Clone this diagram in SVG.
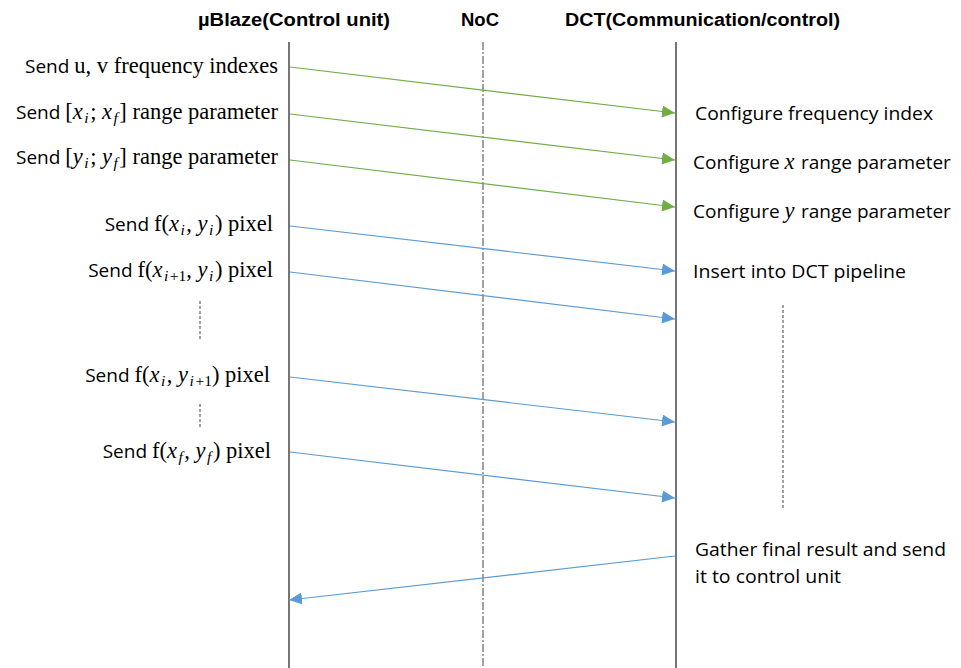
<svg xmlns="http://www.w3.org/2000/svg" width="961" height="668" viewBox="0 0 961 668">
<style>
.life{stroke:#1a1a1a;stroke-width:1.2;fill:none}
.noc{stroke:#444;stroke-width:1;stroke-dasharray:8,2,2,2;fill:none}
.dash{stroke:#444;stroke-width:1;stroke-dasharray:3,2;fill:none}
.g{stroke:#70AD47;stroke-width:1.2;fill:none;marker-end:url(#ag)}
.b{stroke:#5B9BD5;stroke-width:1.2;fill:none;marker-end:url(#ab)}
.hd{font-family:"Liberation Sans",Arial,sans-serif;font-weight:bold;font-size:18px;fill:#000}
.sn{font-family:"Open Sans","Liberation Sans",sans-serif;font-size:19px;fill:#000}
.sr{font-family:"Liberation Serif","Times New Roman",serif;font-size:22.5px;fill:#000}
.it{font-style:italic;letter-spacing:1.5px}
.sub{font-size:15.5px}
</style>
<defs>
<marker id="ag" markerUnits="userSpaceOnUse" markerWidth="14" markerHeight="12" refX="13" refY="6" orient="auto"><path d="M0,0 L13,6 L0,12 Z" fill="#70AD47"/></marker>
<marker id="ab" markerUnits="userSpaceOnUse" markerWidth="14" markerHeight="12" refX="13" refY="6" orient="auto"><path d="M0,0 L13,6 L0,12 Z" fill="#5B9BD5"/></marker>
</defs>
<rect width="961" height="668" fill="#fff"/>
<g id="headers">
<text class="hd" x="198" y="26" textLength="192" lengthAdjust="spacingAndGlyphs">µBlaze(Control unit)</text>
<text class="hd" x="461" y="26" textLength="38" lengthAdjust="spacingAndGlyphs">NoC</text>
<text class="hd" x="565" y="26" textLength="275" lengthAdjust="spacingAndGlyphs">DCT(Communication/control)</text>
</g>
<g id="lifelines">
<line id="ll-ublaze" class="life" x1="289" y1="42" x2="289" y2="668"/>
<line id="ll-noc" class="noc" x1="483" y1="42" x2="483" y2="668"/>
<line id="ll-dct" class="life" x1="676" y1="42" x2="676" y2="668"/>
</g>
<g id="connectors">
<line class="g" x1="290" y1="67" x2="675" y2="113"/>
<line class="g" x1="290" y1="114" x2="675" y2="160"/>
<line class="g" x1="290" y1="160" x2="675" y2="207"/>
<line class="b" x1="290" y1="226" x2="675" y2="271"/>
<line class="b" x1="290" y1="272" x2="675" y2="319"/>
<line class="b" x1="290" y1="377" x2="675" y2="422"/>
<line class="b" x1="290" y1="452" x2="675" y2="498"/>
<line class="b" x1="675" y1="556" x2="289" y2="600"/>
</g>
<g id="ellipses">
<line class="dash" x1="200" y1="301" x2="200" y2="339"/>
<line class="dash" x1="200" y1="404" x2="200" y2="429"/>
<line class="dash" x1="783" y1="305" x2="783" y2="510"/>
</g>
<g id="left-labels">
<text x="278" y="73" text-anchor="end"><tspan class="sn">Send </tspan><tspan class="sr">u, v frequency indexes</tspan></text>
<text x="278" y="119" text-anchor="end"><tspan class="sn">Send </tspan><tspan class="sr">[</tspan><tspan class="sr it">x</tspan><tspan class="sr it sub" dy="4">i</tspan><tspan class="sr" dy="-4">; </tspan><tspan class="sr it">x</tspan><tspan class="sr it sub" dy="4">f</tspan><tspan class="sr" dy="-4">] range parameter</tspan></text>
<text x="278" y="164" text-anchor="end"><tspan class="sn">Send </tspan><tspan class="sr">[</tspan><tspan class="sr it">y</tspan><tspan class="sr it sub" dy="4">i</tspan><tspan class="sr" dy="-4">; </tspan><tspan class="sr it">y</tspan><tspan class="sr it sub" dy="4">f</tspan><tspan class="sr" dy="-4">] range parameter</tspan></text>
<text x="273" y="231" text-anchor="end"><tspan class="sn">Send </tspan><tspan class="sr">f(</tspan><tspan class="sr it">x</tspan><tspan class="sr it sub" dy="4">i</tspan><tspan class="sr" dy="-4">, </tspan><tspan class="sr it">y</tspan><tspan class="sr it sub" dy="4">i</tspan><tspan class="sr" dy="-4">) pixel</tspan></text>
<text x="273" y="277" text-anchor="end"><tspan class="sn">Send </tspan><tspan class="sr">f(</tspan><tspan class="sr it">x</tspan><tspan class="sr sub" dy="4"><tspan class="it">i</tspan>+1</tspan><tspan class="sr" dy="-4">, </tspan><tspan class="sr it">y</tspan><tspan class="sr it sub" dy="4">i</tspan><tspan class="sr" dy="-4">) pixel</tspan></text>
<text x="270" y="382" text-anchor="end"><tspan class="sn">Send </tspan><tspan class="sr">f(</tspan><tspan class="sr it">x</tspan><tspan class="sr it sub" dy="4">i</tspan><tspan class="sr" dy="-4">, </tspan><tspan class="sr it">y</tspan><tspan class="sr sub" dy="4"><tspan class="it">i</tspan>+1</tspan><tspan class="sr" dy="-4">) pixel</tspan></text>
<text x="271" y="458" text-anchor="end"><tspan class="sn">Send </tspan><tspan class="sr">f(</tspan><tspan class="sr it">x</tspan><tspan class="sr it sub" dy="4">f</tspan><tspan class="sr" dy="-4">, </tspan><tspan class="sr it">y</tspan><tspan class="sr it sub" dy="4">f</tspan><tspan class="sr" dy="-4">) pixel</tspan></text>
</g>
<g id="right-labels">
<text class="sn" x="695" y="120" textLength="238" lengthAdjust="spacingAndGlyphs">Configure frequency index</text>
<text x="693" y="169"><tspan class="sn">Configure </tspan><tspan class="sr it">x</tspan><tspan class="sn"> range parameter</tspan></text>
<text x="693" y="218"><tspan class="sn">Configure </tspan><tspan class="sr it">y</tspan><tspan class="sn"> range parameter</tspan></text>
<text class="sn" x="693" y="278" textLength="213" lengthAdjust="spacingAndGlyphs">Insert into DCT pipeline</text>
<text class="sn" x="695" y="556" textLength="251" lengthAdjust="spacingAndGlyphs">Gather final result and send</text>
<text class="sn" x="695" y="583" textLength="146" lengthAdjust="spacingAndGlyphs">it to control unit</text>
</g>
</svg>
